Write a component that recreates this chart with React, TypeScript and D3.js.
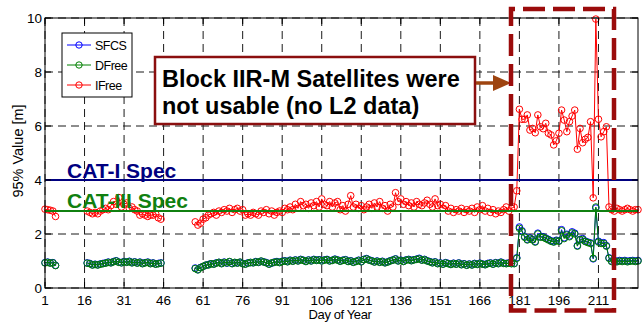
import React from "react";
import * as d3 from "d3";

const WIDTH = 643;
const HEIGHT = 326;
const plot = { left: 45, right: 638, top: 18, bottom: 288 };
const FONT = "'Liberation Sans', Arial, Helvetica, sans-serif";

// Axis ticks
const dayTicks = [1, 16, 31, 46, 61, 76, 91, 106, 121, 136, 151, 166, 181, 196, 211];
const valueTicks = [0, 2, 4, 6, 8, 10];
const dayDomain = [1, 226];
const valueDomain = [0, 10];

// Each series is recorded in three contiguous daily spans, starting on these days
const segmentStartDays = [1, 17, 58];

// Requirement levels [m]
const catOneSpec = 4.0;
const catThreeSpec = 2.85;

const seriesNames = ["SFCS", "DFree", "IFree"];
const seriesColors = ["#0000ff", "#008000", "#ff0000"];

const sfcsValues: number[][] = [
  [0.94, 0.96, 0.93, 0.94, 0.84],
  [0.93, 0.91, 0.86, 0.88, 0.86, 0.89, 0.91, 0.93, 0.96, 0.94,
   0.98, 1.01, 0.96, 0.94, 0.98, 0.96, 0.99, 0.94, 0.97, 0.93,
   0.96, 0.91, 0.94, 0.96, 0.91, 0.93, 0.89, 0.91, 0.93],
  [0.74, 0.68, 0.76, 0.8, 0.84, 0.87, 0.9, 0.89, 0.93, 0.95,
   0.91, 0.96, 0.92, 0.97, 0.91, 0.94, 0.93, 0.95, 0.91, 0.89,
   0.93, 0.94, 0.94, 0.98, 0.95, 0.99, 0.97, 0.94, 0.89, 0.92,
   0.96, 0.98, 0.95, 0.99, 1.01, 0.98, 1.03, 1.0, 1.04, 1.01,
   1.06, 1.03, 0.99, 1.04, 1.01, 1.06, 1.03, 1.05, 1.01, 1.04,
   1.06, 1.01, 1.03, 1.07, 1.04, 1.0, 1.03, 1.05, 0.99, 1.01,
   0.96, 0.99, 1.03, 0.98, 1.06, 1.09, 1.04, 1.01, 0.97, 1.0,
   0.96, 0.99, 0.94, 0.97, 1.01, 1.04, 1.08, 1.01, 1.03, 0.99,
   1.04, 1.06, 1.02, 1.05, 1.07, 1.1, 1.04, 1.06, 1.01, 0.98,
   0.94, 0.97, 0.91, 0.93, 0.89, 0.94, 0.91, 0.88, 0.92, 0.89,
   0.93, 0.87, 0.9, 0.85, 0.89, 0.86, 0.91, 0.88, 0.92, 0.89,
   0.87, 0.91, 0.93, 0.89, 0.94, 0.91, 0.96, 0.92, 0.91, 0.93,
   0.91, 0.91, 1.12,
   2.26, 2.12, 1.9, 1.8, 1.86, 1.8, 1.72, 2.03, 1.9, 1.9,
   1.85, 1.8, 1.75, 1.72, 1.77, 1.75, 2.16, 1.86, 1.99, 1.93,
   2.08, 2.03, 1.57, 1.8, 1.83, 1.74, 1.7, 1.67, 1.08, 2.96,
   1.73, 1.67, 1.68, 1.57, 1.12, 1.0,
   1.02, 0.99, 1.02, 1.0, 1.02, 0.99, 1.01, 1.02, 1.0, 1.02],
];

const dfreeValues: number[][] = [
  [0.93, 0.95, 0.92, 0.93, 0.83],
  [0.92, 0.9, 0.85, 0.87, 0.85, 0.88, 0.9, 0.92, 0.95, 0.93,
   0.97, 1.0, 0.95, 0.93, 0.97, 0.95, 0.98, 0.93, 0.96, 0.92,
   0.95, 0.9, 0.93, 0.95, 0.9, 0.92, 0.88, 0.9, 0.92],
  [0.72, 0.67, 0.75, 0.8, 0.85, 0.85, 0.9, 0.88, 0.92, 0.95,
   0.9, 0.95, 0.93, 0.98, 0.9, 0.95, 0.92, 0.96, 0.9, 0.88,
   0.92, 0.95, 0.93, 0.97, 0.95, 1.0, 0.96, 0.93, 0.88, 0.93,
   0.95, 0.97, 0.94, 0.98, 1.0, 0.97, 1.02, 0.99, 1.03, 1.0,
   1.05, 1.02, 0.98, 1.03, 1.0, 1.05, 1.02, 1.04, 1.0, 1.03,
   1.05, 1.0, 1.02, 1.06, 1.03, 0.99, 1.02, 1.04, 0.98, 1.0,
   0.95, 0.98, 1.02, 0.97, 1.05, 1.08, 1.03, 1.0, 0.96, 0.99,
   0.95, 0.98, 0.93, 0.96, 1.0, 1.03, 1.07, 1.0, 1.02, 0.98,
   1.03, 1.05, 1.01, 1.04, 1.06, 1.08, 1.03, 1.05, 1.0, 0.97,
   0.93, 0.96, 0.9, 0.92, 0.88, 0.93, 0.9, 0.87, 0.91, 0.88,
   0.92, 0.86, 0.89, 0.84, 0.88, 0.85, 0.9, 0.87, 0.91, 0.88,
   0.86, 0.9, 0.92, 0.88, 0.93, 0.9, 0.95, 0.91, 0.9, 0.92,
   0.9, 0.9, 1.1,
   2.21, 2.09, 1.88, 1.78, 1.84, 1.78, 1.7, 2.0, 1.88, 1.88,
   1.83, 1.78, 1.73, 1.7, 1.75, 1.73, 2.12, 1.83, 1.96, 1.9,
   2.04, 2.0, 1.55, 1.78, 1.8, 1.72, 1.68, 1.65, 1.1, 3.0,
   1.7, 1.65, 1.65, 1.55, 1.1, 0.98,
   1.0, 0.97, 1.0, 0.98, 1.0, 0.97, 0.99, 1.0, 0.98, 1.0],
];

const ifreeValues: number[][] = [
  [2.92, 2.9, 2.88, 2.85, 2.65],
  [2.85, 2.8, 2.75, 2.8, 2.75, 2.85, 2.9, 2.95, 2.9, 3.05,
   3.2, 3.1, 3.35, 3.0, 3.1, 3.15, 2.95, 3.0, 2.9, 2.85,
   2.7, 2.75, 2.7, 2.65, 2.7, 2.7, 2.75, 2.6, 2.55],
  [2.45, 2.33, 2.4, 2.55, 2.6, 2.7, 2.75, 2.8, 2.7, 2.85,
   2.8, 2.9, 2.85, 2.95, 2.8, 2.9, 2.95, 2.85, 2.9, 2.7,
   2.75, 2.7, 2.8, 2.75, 2.7, 2.85, 2.8, 2.9, 2.75, 2.85,
   2.7, 2.8, 2.85, 2.8, 2.95, 2.9, 3.0, 2.9, 3.1, 2.95,
   3.2, 3.05, 3.1, 2.95, 3.15, 3.05, 3.2, 3.0, 3.3, 3.1,
   3.05, 3.2, 3.0, 3.15, 3.2, 2.9, 3.05, 2.85, 3.1, 3.42,
   3.0, 3.1, 2.95, 3.05, 2.9, 3.0, 3.1, 2.95, 3.15, 3.0,
   3.2, 2.95, 3.05, 2.85, 3.1, 3.0, 3.53, 3.2, 3.3, 3.1,
   3.2, 3.05, 3.15, 3.0, 3.2, 3.1, 3.05, 3.15, 3.25, 3.1,
   3.0, 3.3, 3.05, 3.1, 2.95, 3.05, 2.85, 2.95, 2.8, 2.9,
   2.85, 2.95, 2.8, 2.9, 2.85, 2.95, 2.8, 3.0, 2.9, 3.05,
   2.85, 2.95, 2.8, 2.9, 2.75, 2.85, 2.8, 2.9, 3.0, 2.85,
   2.95, 3.0, 3.6,
   6.62, 6.25, 6.25, 6.41, 5.85, 5.91, 5.75, 6.41, 5.97, 5.9,
   6.1, 5.73, 5.67, 5.3, 5.45, 5.73, 6.59, 6.22, 5.79, 6.16,
   6.37, 6.59, 5.14, 5.91, 5.38, 5.51, 5.58, 6.16, 3.34, 9.96,
   6.25, 5.6, 5.79, 5.97, 3.0, 2.9,
   2.85, 2.95, 2.9, 2.85, 2.9, 2.95, 2.9, 2.85, 2.9, 2.9],
];

const annotationLines = ["Block IIR-M Satellites were", "not usable (no L2 data)"];

export default function App() {
  const x = d3.scaleLinear().domain(dayDomain).range([plot.left, plot.right]);
  const y = d3.scaleLinear().domain(valueDomain).range([plot.bottom, plot.top]);
  const line = d3
    .line<[number, number]>()
    .x((d) => x(d[0]))
    .y((d) => y(d[1]));

  const series = [sfcsValues, dfreeValues, ifreeValues].map((segs, k) => ({
    name: seriesNames[k],
    color: seriesColors[k],
    segments: segs.map((vals, s) =>
      vals.map((v, i) => [segmentStartDays[s] + i, v] as [number, number])
    ),
  }));

  const tickLen = 6;
  const gridDash = "8,5";

  return (
    <svg
      width={WIDTH}
      height={HEIGHT}
      style={{ position: "absolute", left: 0, top: 0, display: "block" }}
      fontFamily={FONT}
    >
      <rect x={0} y={0} width={WIDTH} height={HEIGHT} fill="#ffffff" />

      {/* grid */}
      <g stroke="#1a1a1a" strokeWidth={1} strokeDasharray={gridDash} fill="none">
        {dayTicks.map((d) => (
          <line key={"gx" + d} x1={x(d)} x2={x(d)} y1={plot.top} y2={plot.bottom} />
        ))}
        {valueTicks.map((v) => (
          <line key={"gy" + v} x1={plot.left} x2={plot.right} y1={y(v)} y2={y(v)} />
        ))}
      </g>

      {/* data series */}
      {series.map((s) => (
        <g key={s.name}>
          {s.segments.map((seg, i) => (
            <path key={i} d={line(seg) || ""} fill="none" stroke={s.color} strokeWidth={1} />
          ))}
          {s.segments.flat().map((p, i) => (
            <circle
              key={i}
              cx={x(p[0])}
              cy={y(p[1])}
              r={3.3}
              fill="none"
              stroke={s.color}
              strokeWidth={1}
            />
          ))}
        </g>
      ))}

      {/* requirement levels */}
      <line x1={plot.left} x2={plot.right} y1={y(catOneSpec)} y2={y(catOneSpec)} stroke="#000080" strokeWidth={2} />
      <line x1={plot.left} x2={plot.right} y1={y(catThreeSpec)} y2={y(catThreeSpec)} stroke="#108010" strokeWidth={2} />
      <text x={67} y={178} fontSize={21} fontWeight="bold" fill="#000080">CAT-I Spec</text>
      <text x={67} y={208} fontSize={21} fontWeight="bold" fill="#108010">CAT-III Spec</text>

      {/* axes box and ticks */}
      <g stroke="#000" strokeWidth={1}>
        {dayTicks.map((d) => (
          <g key={"tx" + d}>
            <line x1={x(d)} x2={x(d)} y1={plot.bottom} y2={plot.bottom - tickLen} />
            <line x1={x(d)} x2={x(d)} y1={plot.top} y2={plot.top + tickLen} />
          </g>
        ))}
        {valueTicks.map((v) => (
          <g key={"ty" + v}>
            <line x1={plot.left} x2={plot.left + tickLen} y1={y(v)} y2={y(v)} />
            <line x1={plot.right} x2={plot.right - tickLen} y1={y(v)} y2={y(v)} />
          </g>
        ))}
        <rect
          x={plot.left}
          y={plot.top}
          width={plot.right - plot.left}
          height={plot.bottom - plot.top}
          fill="none"
        />
      </g>

      {/* tick labels */}
      <g fontSize={13.5} fill="#000">
        {dayTicks.map((d) => (
          <text key={"lx" + d} x={x(d)} y={305} textAnchor="middle">
            {d}
          </text>
        ))}
        {valueTicks.map((v) => (
          <text key={"ly" + v} x={42} y={y(v) + 4.8} textAnchor="end">
            {v}
          </text>
        ))}
      </g>

      {/* axis titles */}
      <text x={340} y={319} fontSize={13} textAnchor="middle" letterSpacing={-0.4}>
        Day of Year
      </text>
      <text
        transform={`translate(23, 151) rotate(-90)`}
        fontSize={14.5}
        textAnchor="middle"
      >
        95% Value [m]
      </text>

      {/* legend */}
      <g>
        <rect x={62} y={33} width={70} height={64} fill="#fff" stroke="#000" strokeWidth={1} />
        {series.map((s, i) => {
          const ly = 45 + i * 20;
          return (
            <g key={"lg" + s.name}>
              <line x1={67} x2={91} y1={ly} y2={ly} stroke={s.color} strokeWidth={1} />
              <circle cx={79} cy={ly} r={3.2} fill="none" stroke={s.color} strokeWidth={1} />
              <text x={95} y={ly + 4.5} fontSize={12.5} letterSpacing={-0.5}>
                {s.name}
              </text>
            </g>
          );
        })}
      </g>

      {/* annotation */}
      <rect x={155} y={57} width={320} height={67} fill="#fff" stroke="#8b0f0f" strokeWidth={2.5} />
      {annotationLines.map((t, i) => (
        <text key={i} x={162} y={87 + i * 26.5} fontSize={23.5} fontWeight="bold" fill="#000">
          {t}
        </text>
      ))}
      <line x1={476} x2={496} y1={83} y2={83} stroke="#9e4410" strokeWidth={3.5} />
      <path d="M493,75 L511,83 L493,91 Z" fill="#9e4410" />

      {/* highlighted period */}
      <rect
        x={511}
        y={9}
        width={103}
        height={301.5}
        fill="none"
        stroke="#9b0b0b"
        strokeWidth={4.5}
        strokeDasharray="22,8"
        strokeDashoffset={-12}
      />
    </svg>
  );
}
